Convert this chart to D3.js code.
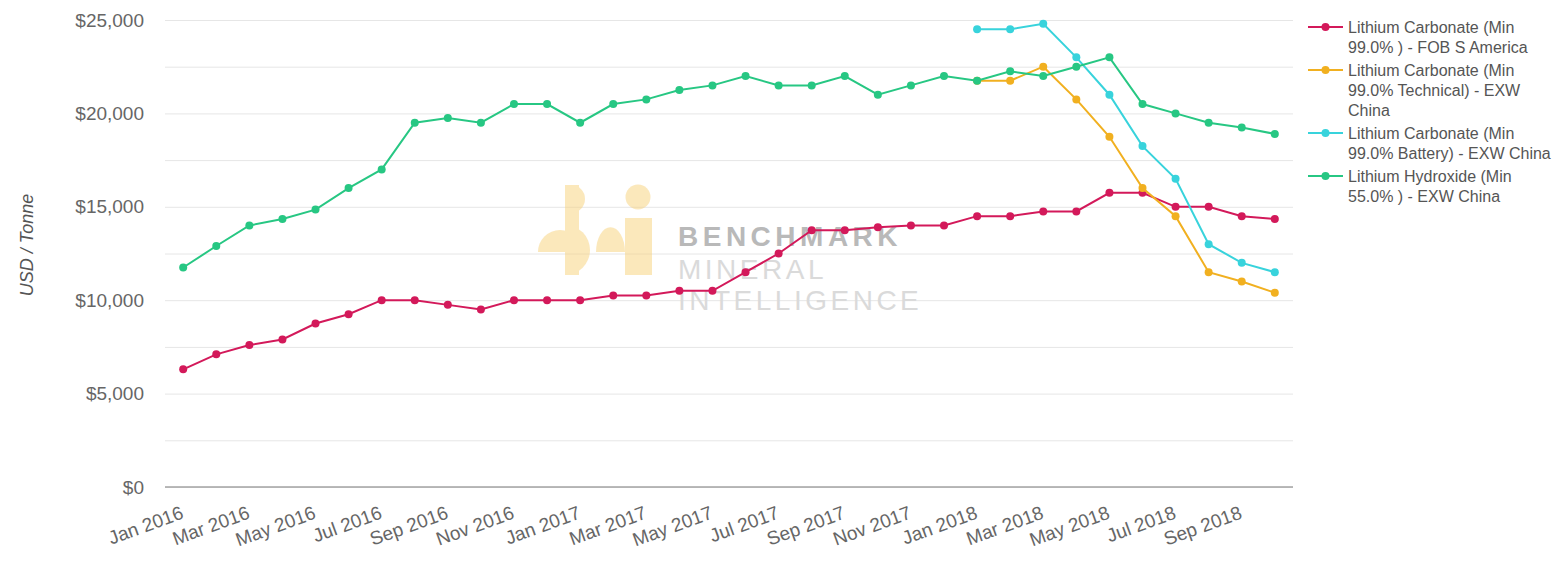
<!DOCTYPE html>
<html>
<head>
<meta charset="utf-8">
<title>Lithium prices</title>
<script src="https://cdnjs.cloudflare.com/ajax/libs/d3/7.8.5/d3.min.js"></script>
<style>
    body { margin: 0; background: #fff; font-family: "Liberation Sans", Arial, sans-serif; }
    .grid line { stroke: #e6e6e6; stroke-width: 1; }
    .grid .domain { display: none; }
    .y-axis .domain { display: none; }
    .y-axis text, .x-axis text { fill: #666; font-size: 19px; font-family: "Liberation Sans", Arial, sans-serif; }
    .x-axis .domain { stroke: #a3a3a3; stroke-width: 1.6; }
    .legend text { fill: #555; font-size: 16px; }
</style>
</head>
<body>
<div id="chart"></div>
<script>
var months = ["Jan 2016", "Feb 2016", "Mar 2016", "Apr 2016", "May 2016", "Jun 2016",
    "Jul 2016", "Aug 2016", "Sep 2016", "Oct 2016", "Nov 2016", "Dec 2016",
    "Jan 2017", "Feb 2017", "Mar 2017", "Apr 2017", "May 2017", "Jun 2017",
    "Jul 2017", "Aug 2017", "Sep 2017", "Oct 2017", "Nov 2017", "Dec 2017",
    "Jan 2018", "Feb 2018", "Mar 2018", "Apr 2018", "May 2018", "Jun 2018",
    "Jul 2018", "Aug 2018", "Sep 2018", "Oct 2018"];

// USD / tonne
var carbonateFobSAmerica = [6300, 7100, 7600, 7900, 8750, 9250, 10000, 10000, 9750, 9500, 10000, 10000,
    10000, 10250, 10250, 10500, 10500, 11500, 12500, 13750, 13750, 13900, 14000, 14000,
    14500, 14500, 14750, 14750, 15750, 15750, 15000, 15000, 14500, 14350];

// these two start in Jan 2018
var carbonateTechnicalChina = [21750, 21750, 22500, 20750, 18750, 16000, 14500, 11500, 11000, 10400];
var carbonateBatteryChina = [24500, 24500, 24800, 23000, 21000, 18250, 16500, 13000, 12000, 11500];
var chinaSeriesStart = "Jan 2018";

var hydroxideChina = [11750, 12900, 14000, 14350, 14850, 16000, 17000, 19500, 19750, 19500, 20500, 20500,
    19500, 20500, 20750, 21250, 21500, 22000, 21500, 21500, 22000, 21000, 21500, 22000,
    21750, 22250, 22000, 22500, 23000, 20500, 20000, 19500, 19250, 18900];

var legendLabels = [
    ["Lithium Carbonate (Min", "99.0% ) - FOB S America"],
    ["Lithium Carbonate (Min", "99.0% Technical) - EXW", "China"],
    ["Lithium Carbonate (Min", "99.0% Battery) - EXW China"],
    ["Lithium Hydroxide (Min", "55.0% ) - EXW China"]
];

var gridTicks = [0, 2500, 5000, 7500, 10000, 12500, 15000, 17500, 20000, 22500, 25000];
var labelTicks = [0, 5000, 10000, 15000, 20000, 25000];
var monthTicks = ["Jan 2016", "Mar 2016", "May 2016", "Jul 2016", "Sep 2016", "Nov 2016",
    "Jan 2017", "Mar 2017", "May 2017", "Jul 2017", "Sep 2017", "Nov 2017",
    "Jan 2018", "Mar 2018", "May 2018", "Jul 2018", "Sep 2018"];


PriceChart = function(_parentElement) {
    this.parentElement = _parentElement;
    this.initVis();
}

PriceChart.prototype.initVis = function() {
    var vis = this;

    vis.width = 1559;
    vis.height = 562;
    vis.left = 165;
    vis.right = 1293;
    vis.top = 20;
    vis.bottom = 487;
    vis.colors = ["#d3195a", "#f1b020", "#38d3dc", "#27c783"];

    vis.svg = d3.select("#" + vis.parentElement).append("svg")
        .attr("width", vis.width)
        .attr("height", vis.height);

    vis.x = d3.scalePoint()
        .domain(months)
        .range([vis.left, vis.right])
        .padding(0.55);

    vis.y = d3.scaleLinear()
        .domain([0, 25000])
        .range([vis.bottom, vis.top]);

    // grid lines
    vis.svg.append("g")
        .attr("class", "grid")
        .attr("transform", "translate(" + vis.left + ",0)")
        .call(d3.axisLeft(vis.y).tickValues(gridTicks).tickSize(-(vis.right - vis.left)).tickFormat(""));

    // y labels
    vis.svg.append("g")
        .attr("class", "y-axis")
        .attr("transform", "translate(" + vis.left + ",0)")
        .call(d3.axisLeft(vis.y).tickValues(labelTicks).tickSize(0).tickPadding(21)
            .tickFormat(function(d) { return "$" + d3.format(",")(d); }));

    vis.svg.append("text")
        .attr("transform", "translate(33,245) rotate(-90)")
        .attr("text-anchor", "middle")
        .style("font-size", "18px")
        .style("font-style", "italic")
        .style("fill", "#555")
        .text("USD / Tonne");

    // x axis
    vis.xAxis = vis.svg.append("g")
        .attr("class", "x-axis")
        .attr("transform", "translate(0," + vis.bottom + ")")
        .call(d3.axisBottom(vis.x).tickValues(monthTicks).tickSize(0).tickSizeOuter(0));

    vis.xAxis.select(".domain").attr("d", "M" + vis.left + ",0H" + vis.right);

    vis.xAxis.selectAll(".tick text")
        .attr("x", 0)
        .attr("y", 0)
        .attr("dy", null)
        .attr("text-anchor", "end")
        .attr("transform", "translate(1,31) rotate(-20)");

    vis.drawWatermark();

    vis.wrangleData();
}

PriceChart.prototype.drawWatermark = function() {
    var vis = this;

    var mark = vis.svg.append("g").attr("class", "watermark");
    var gold = mark.append("g").style("fill", "#f8d27a").style("opacity", 0.5);

    // "b" stem with rounded top, bowl, left dome
    gold.append("rect").attr("x", 565).attr("y", 185).attr("width", 14).attr("height", 90);
    gold.append("path").attr("d", "M571,185A14,14 0 0 1 571,213Z");
    gold.append("path").attr("d", "M565,225A25,25 0 0 1 565,275Z");
    gold.append("path").attr("d", "M538,252A22,22 0 0 1 582,252Z");
    gold.append("path").attr("d", "M596,252A14,24 0 0 1 625,252Z");
    // "i"
    gold.append("circle").attr("cx", 638).attr("cy", 197).attr("r", 12.5);
    gold.append("rect").attr("x", 625).attr("y", 218).attr("width", 27).attr("height", 57);

    mark.append("text")
        .attr("x", 678).attr("y", 246)
        .style("font-size", "28px").style("font-weight", "bold")
        .style("letter-spacing", "4.5px").style("fill", "#b9b9b9")
        .text("BENCHMARK");

    mark.append("text")
        .attr("x", 678).attr("y", 279)
        .style("font-size", "28px").style("letter-spacing", "3.5px")
        .style("fill", "#dadada")
        .text("MINERAL");

    mark.append("text")
        .attr("x", 678).attr("y", 310)
        .style("font-size", "28px").style("letter-spacing", "3.5px")
        .style("fill", "#dadada")
        .text("INTELLIGENCE");
}

PriceChart.prototype.wrangleData = function() {
    var vis = this;

    var offset = months.indexOf(chinaSeriesStart);

    function fromMonth(values, start) {
        return values.map(function(v, i) { return { month: months[i + start], value: v }; });
    }

    vis.series = [
        fromMonth(carbonateFobSAmerica, 0),
        fromMonth(carbonateTechnicalChina, offset),
        fromMonth(carbonateBatteryChina, offset),
        fromMonth(hydroxideChina, 0)
    ];

    vis.updateVis();
}

PriceChart.prototype.updateVis = function() {
    var vis = this;

    var line = d3.line()
        .x(function(d) { return vis.x(d.month); })
        .y(function(d) { return vis.y(d.value); });

    var groups = vis.svg.selectAll(".series")
        .data(vis.series)
        .enter().append("g")
        .attr("class", "series");

    groups.append("path")
        .attr("d", line)
        .attr("fill", "none")
        .attr("stroke", function(d, i) { return vis.colors[i]; })
        .attr("stroke-width", 2);

    groups.each(function(s, i) {
        d3.select(this).selectAll("circle")
            .data(s)
            .enter().append("circle")
            .attr("cx", function(d) { return vis.x(d.month); })
            .attr("cy", function(d) { return vis.y(d.value); })
            .attr("r", 4)
            .attr("fill", vis.colors[i]);
    });

    // legend
    var legend = vis.svg.append("g").attr("class", "legend");
    var yPos = 27;

    legendLabels.forEach(function(lines, i) {
        var item = legend.append("g").attr("transform", "translate(0," + yPos + ")");

        item.append("line")
            .attr("x1", 1308).attr("x2", 1343)
            .attr("stroke", vis.colors[i]).attr("stroke-width", 2);
        item.append("circle")
            .attr("cx", 1325.5).attr("r", 4)
            .attr("fill", vis.colors[i]);

        item.selectAll("text")
            .data(lines)
            .enter().append("text")
            .attr("x", 1348)
            .attr("y", function(d, j) { return j * 20; })
            .attr("dy", "0.35em")
            .text(function(d) { return d; });

        yPos += lines.length * 20 + 3;
    });
}

var chart = new PriceChart("chart");
</script>
</body>
</html>
